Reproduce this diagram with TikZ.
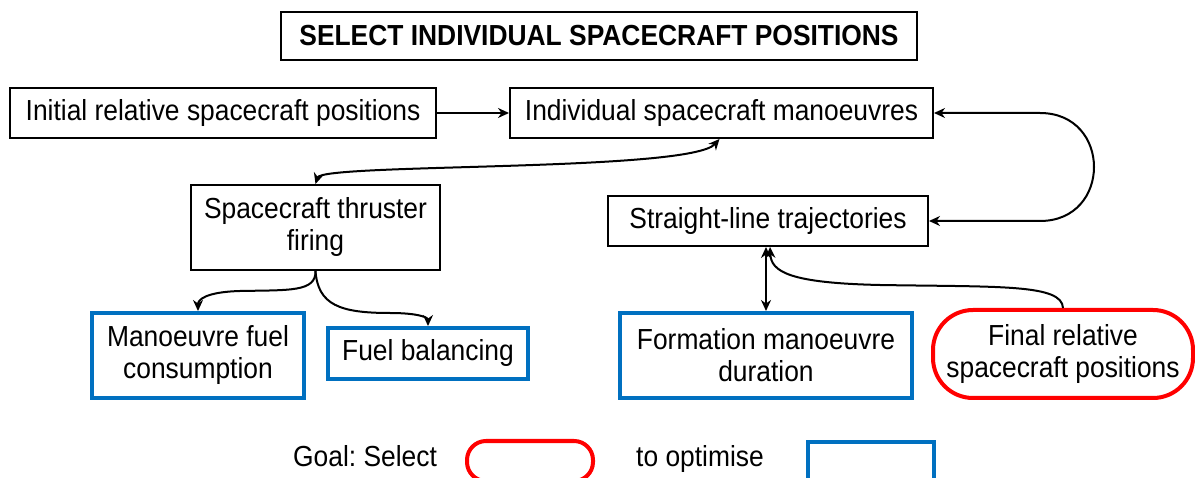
\documentclass[tikz,border=0pt]{standalone}
\usepackage{fontspec}
\setmainfont[FakeStretch=0.91]{Liberation Sans}
\usetikzlibrary{arrows.meta}
\definecolor{goalblue}{HTML}{0070C0}
\definecolor{goalred}{HTML}{FF0000}
\newcommand{\labelfont}{\fontsize{29}{32}\selectfont\frenchspacing}
\tikzset{
  blackbox/.style={draw=black, line width=2pt, inner sep=0pt, align=center, font=\labelfont},
  bluebox/.style={draw=goalblue, line width=4pt, inner sep=0pt, align=center, font=\labelfont},
  redbox/.style={draw=goalred, line width=4pt, rounded corners=40pt, inner sep=0pt, align=center, font=\labelfont},
  plain/.style={inner sep=0pt, anchor=base, font=\labelfont},
  link/.style={line width=2pt, -{Stealth[length=11pt,width=10pt]}},
  dlink/.style={line width=2pt, {Stealth[length=11pt,width=10pt]}-{Stealth[length=11pt,width=10pt]}},
}
\begin{document}
\begin{tikzpicture}[x=1pt,y=-1pt]
\clip (0,0) rectangle (1195,478);
\fill[white] (0,0) rectangle (1195,478);

% heading
\node[blackbox, minimum width=636pt, minimum height=48pt, font=\labelfont\bfseries]
  (title) at (599,36) {SELECT INDIVIDUAL SPACECRAFT POSITIONS};

% upper row
\node[blackbox, minimum width=426pt, minimum height=50pt] (init) at (223,113) {Initial relative spacecraft positions};
\node[blackbox, minimum width=423pt, minimum height=50pt] (ind) at (721.5,113) {Individual spacecraft manoeuvres};

% middle row
\node[blackbox, minimum width=249pt, minimum height=85pt] (thr) at (315.5,227.5) {Spacecraft thruster\\firing};
\node[blackbox, minimum width=320pt, minimum height=50pt] (sl) at (768,221) {Straight-line trajectories};

% lower row
\node[bluebox, minimum width=212pt, minimum height=85pt] (mfc) at (198,355.5) {Manoeuvre fuel\\consumption};
\node[bluebox, minimum width=200pt, minimum height=51pt] (fb) at (428,353.5) {Fuel balancing};
\node[bluebox, minimum width=292pt, minimum height=85pt] (fmd) at (766,355.5) {Formation manoeuvre\\duration};
\node[redbox, minimum width=260pt, minimum height=88pt] (frp) at (1063,354) {Final relative\\spacecraft positions};

% legend
\node[plain] (goal) at (365,466) {Goal: Select};
\node[redbox, rounded corners=19pt, minimum width=126pt, minimum height=40pt] (keyred) at (530,461) {};
\node[plain] (opt) at (700,466) {to optimise};
\node[bluebox, minimum width=126pt, minimum height=40pt] (keyblue) at (871,462) {};

% connectors
\draw[link] (init.east) -- (ind.west);
\draw[dlink] (thr.north) .. controls (322,163) and (690,172) .. ([xshift=-2pt]ind.south);
\coordinate (loopA) at (1040,113);
\coordinate (loopB) at (1040,221);
\draw[dlink] (ind.east) -- (loopA) .. controls (1112,113) and (1112,221) .. (loopB) -- (sl.east);
\draw[dlink] (fmd.north) -- (fmd.north |- sl.south);
\draw[link] (frp.north) .. controls (1062,284) and (1000,287) .. (880,285)
  .. controls (790,283) and (771,272) .. ([xshift=2pt]sl.south);
\draw[link] (thr.south) .. controls (316,292) and (290,290) .. (240,291)
  .. controls (205,292) and (198,300) .. (mfc.north);
\draw[link] (thr.south) .. controls (318,305) and (340,313) .. (390,313)
  .. controls (420,313) and (428,318) .. (fb.north);
\end{tikzpicture}
\end{document}
